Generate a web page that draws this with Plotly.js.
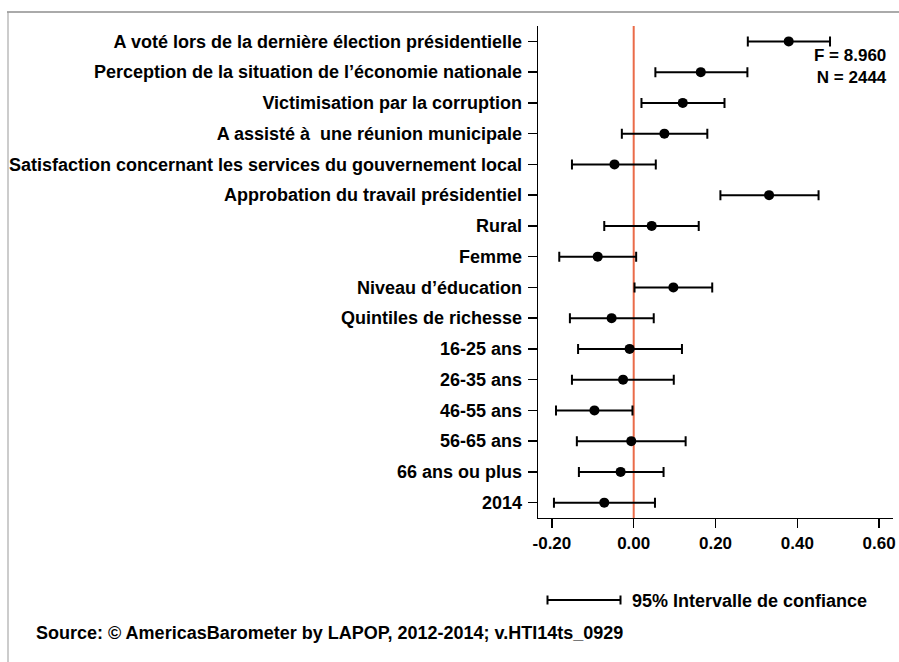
<!DOCTYPE html>
<html><head><meta charset="utf-8">
<script src="https://cdn.plot.ly/plotly-3.0.1.min.js"></script>
<style>html,body{margin:0;padding:0;background:#fff;overflow:hidden}</style>
</head><body><div id="chart" style="width:899px;height:662px"></div>
<script>
const categories = [
  "A voté lors de la dernière élection présidentielle",
  "Perception de la situation de l’économie nationale",
  "Victimisation par la corruption",
  "A assisté à  une réunion municipale",
  "Satisfaction concernant les services du gouvernement local",
  "Approbation du travail présidentiel",
  "Rural",
  "Femme",
  "Niveau d’éducation",
  "Quintiles de richesse",
  "16-25 ans",
  "26-35 ans",
  "46-55 ans",
  "56-65 ans",
  "66 ans ou plus",
  "2014"
];
const estimates = [0.379, 0.164, 0.120, 0.075, -0.047, 0.331, 0.044, -0.088, 0.097, -0.054, -0.010, -0.026, -0.096, -0.006, -0.032, -0.072];
const lower     = [0.279, 0.053, 0.019, -0.029, -0.151, 0.212, -0.072, -0.182, 0.002, -0.156, -0.136, -0.151, -0.190, -0.139, -0.134, -0.195];
const upper     = [0.480, 0.278, 0.222, 0.180, 0.054, 0.452, 0.159, 0.006, 0.192, 0.049, 0.118, 0.098, -0.003, 0.127, 0.073, 0.052];
const xTickVals = [-0.2, 0, 0.2, 0.4, 0.6];
const xTickText = ["-0.20", "0.00", "0.20", "0.40", "0.60"];
const statsText = "F = 8.960<br>N = 2444";
const legendText = "95% Intervalle de confiance";
const sourceText = "Source: © AmericasBarometer by LAPOP, 2012-2014; v.HTI14ts_0929";

const W = 899, H = 662;
const M = {l: 538, r: 6, t: 26, b: 144};
const PW = W - M.l - M.r, PH = H - M.t - M.b;
const px = x => (x - M.l) / PW;
const py = y => (H - M.b - y) / PH;

const FONT = "Liberation Sans, Arial, Helvetica, sans-serif";
const bold = (size) => ({family: FONT, size: size, color: "#000", weight: "bold"});

const trace = {
  type: "scatter",
  mode: "markers",
  x: estimates,
  y: categories,
  marker: {color: "#000", size: 10},
  error_x: {
    type: "data",
    symmetric: false,
    array: upper.map((u, i) => u - estimates[i]),
    arrayminus: estimates.map((e, i) => e - lower[i]),
    color: "#000",
    thickness: 2,
    width: 5
  },
  hoverinfo: "x+y",
  showlegend: false
};

const layout = {
  width: W, height: H,
  margin: M,
  paper_bgcolor: "#fff",
  plot_bgcolor: "#fff",
  font: bold(18),
  xaxis: {
    range: [-0.234, 0.634],
    tickvals: xTickVals,
    ticktext: xTickText,
    showgrid: false,
    zeroline: false,
    showline: true,
    linecolor: "#000",
    linewidth: 1.3,
    ticks: "outside",
    ticklen: 9,
    tickwidth: 1.3,
    tickcolor: "#000",
    tickfont: bold(17),
    fixedrange: true
  },
  yaxis: {
    type: "category",
    categoryorder: "array",
    categoryarray: categories,
    autorange: false,
    range: [15.5, -0.5],
    showgrid: false,
    zeroline: false,
    showline: true,
    linecolor: "#000",
    linewidth: 1.3,
    ticks: "outside",
    ticklen: 9,
    tickwidth: 1.3,
    tickcolor: "#000",
    ticklabelstandoff: 2,
    tickfont: bold(18),
    fixedrange: true
  },
  shapes: [
    {type: "line", xref: "x", yref: "paper", x0: 0, x1: 0, y0: 0, y1: 1,
     line: {color: "#ea6b48", width: 2}, layer: "below"},
    {type: "line", xref: "paper", yref: "paper", x0: px(7), x1: px(W + 5), y0: py(12), y1: py(12),
     line: {color: "#aaaaaa", width: 2}},
    {type: "line", xref: "paper", yref: "paper", x0: px(8), x1: px(8), y0: py(12), y1: py(H + 5),
     line: {color: "#999999", width: 1}},
    {type: "line", xref: "paper", yref: "paper", x0: px(547.5), x1: px(620.5), y0: py(600), y1: py(600),
     line: {color: "#000", width: 2}},
    {type: "line", xref: "paper", yref: "paper", x0: px(547.5), x1: px(547.5), y0: py(595.5), y1: py(604.5),
     line: {color: "#000", width: 2}},
    {type: "line", xref: "paper", yref: "paper", x0: px(620.5), x1: px(620.5), y0: py(595.5), y1: py(604.5),
     line: {color: "#000", width: 2}}
  ],
  annotations: [
    {xref: "paper", yref: "paper", x: px(889), y: py(66), xanchor: "right", yanchor: "middle",
     text: statsText, showarrow: false, align: "right", font: bold(17)},
    {xref: "paper", yref: "paper", x: px(630), y: py(601), xanchor: "left", yanchor: "middle",
     text: legendText, showarrow: false, font: bold(18)},
    {xref: "paper", yref: "paper", x: px(34), y: py(633), xanchor: "left", yanchor: "middle",
     text: sourceText, showarrow: false, font: bold(18)}
  ]
};

Plotly.newPlot("chart", [trace], layout, {displayModeBar: false, staticPlot: true});
</script>
</body></html>
